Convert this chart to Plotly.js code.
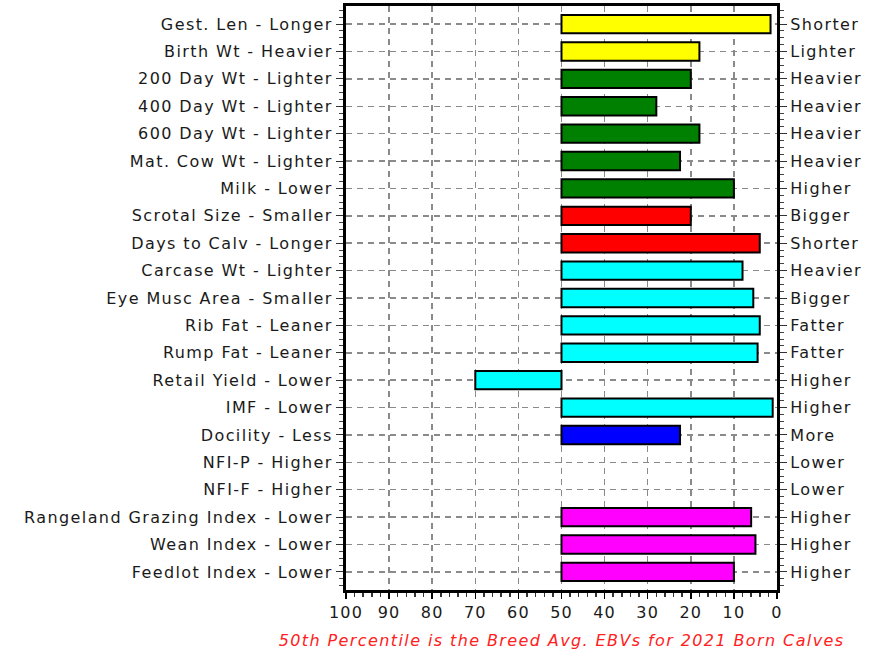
<!DOCTYPE html>
<html>
<head>
<meta charset="utf-8">
<script src="https://cdn.plot.ly/plotly-3.0.1.min.js"></script>
<style>
html,body{margin:0;padding:0;background:#fff;}
#chart{width:881px;height:650px;}
#chart .ytick text, #chart .y2tick text {letter-spacing: 1.4px;}
#chart .xtick text {letter-spacing: 1.2px;}
#chart .annotation-text {letter-spacing: 1.4px;}
</style>
</head>
<body>
<div id="chart"></div>
<script>
var traitsLeft = ["Gest. Len - Longer","Birth Wt - Heavier","200 Day Wt - Lighter","400 Day Wt - Lighter","600 Day Wt - Lighter","Mat. Cow Wt - Lighter","Milk - Lower","Scrotal Size - Smaller","Days to Calv - Longer","Carcase Wt - Lighter","Eye Musc Area - Smaller","Rib Fat - Leaner","Rump Fat - Leaner","Retail Yield - Lower","IMF - Lower","Docility - Less","NFI-P - Higher","NFI-F - Higher","Rangeland Grazing Index - Lower","Wean Index - Lower","Feedlot Index - Lower"];
var traitsRight = ["Shorter","Lighter","Heavier","Heavier","Heavier","Heavier","Higher","Bigger","Shorter","Heavier","Bigger","Fatter","Fatter","Higher","Higher","More","Lower","Lower","Higher","Higher","Higher"];
var percentiles = [1.5, 18, 20, 28, 18, 22.5, 10, 20, 4, 8, 5.5, 4, 4.5, 70, 1, 22.5, null, null, 6, 5, 10];
var barColors = ["#FFFF00","#FFFF00","#008000","#008000","#008000","#008000","#008000","#FF0000","#FF0000","#00FFFF","#00FFFF","#00FFFF","#00FFFF","#00FFFF","#00FFFF","#0000FF","#FFFFFF","#FFFFFF","#FF00FF","#FF00FF","#FF00FF"];
var breedAvg = 50;
var xTicks = [100,90,80,70,60,50,40,30,20,10,0];
var footnote = "50th Percentile is the Breed Avg. EBVs for 2021 Born Calves";

var rows = traitsLeft.map(function(_, i){ return i; });
var lengths = percentiles.map(function(v){ return v === null ? null : v - breedAvg; });

var font = {family: "DejaVu Sans, Arial, sans-serif", size: 16, color: "#1a1a1a"};

var trace = {
  type: "bar", orientation: "h",
  y: rows, x: lengths, base: breedAvg,
  width: 0.67,
  marker: {color: barColors, line: {color: "#000", width: 2}},
  hoverinfo: "skip", showlegend: false
};
var ghost = {
  type: "scatter", mode: "markers", y: rows, x: rows.map(function(){return breedAvg;}),
  yaxis: "y2", marker: {opacity: 0}, hoverinfo: "skip", showlegend: false
};

var yCommon = {
  range: [20.66, -0.66], tickmode: "array", tickvals: rows,
  ticks: "outside", ticklen: 7, tickwidth: 1, tickcolor: "#333",
  showline: true, linecolor: "#000", linewidth: 3,
  zeroline: false, tickfont: font, fixedrange: true,
  minor: {dtick: 0.25, ticks: "outside", ticklen: 4, tickcolor: "#444", showgrid: false}
};

var layout = {
  width: 881, height: 650,
  margin: {l: 346, r: 104, t: 6, b: 60},
  paper_bgcolor: "#fff", plot_bgcolor: "#fff",
  font: font,
  bargap: 0,
  xaxis: {
    range: [100, 0], tickmode: "array", tickvals: xTicks,
    ticks: "outside", ticklen: 6, tickwidth: 1.5, tickcolor: "#000",
    showgrid: true, gridcolor: "#8a8a8a", gridwidth: 1.5, griddash: "6px,5px",
    showline: true, linecolor: "#000", linewidth: 3, mirror: true,
    zeroline: false, tickfont: font,
    minor: {dtick: 2, ticks: "outside", ticklen: 4, tickcolor: "#333", showgrid: false}
  },
  yaxis: Object.assign({}, yCommon, {
    ticktext: traitsLeft, side: "left",
    showgrid: true, gridcolor: "#8a8a8a", gridwidth: 1.5, griddash: "6px,5px"
  }),
  yaxis2: Object.assign({}, yCommon, {
    ticktext: traitsRight, side: "right", overlaying: "y", showgrid: false
  }),
  annotations: [{
    xref: "paper", yref: "paper", x: 0.5, y: 0, yshift: -50, xanchor: "center", yanchor: "middle",
    text: footnote, showarrow: false,
    font: {family: "DejaVu Sans, Arial, sans-serif", size: 16, color: "#FF2020", style: "italic"}
  }]
};

Plotly.newPlot("chart", [trace, ghost], layout, {displayModeBar: false, staticPlot: true});
</script>
</body>
</html>
